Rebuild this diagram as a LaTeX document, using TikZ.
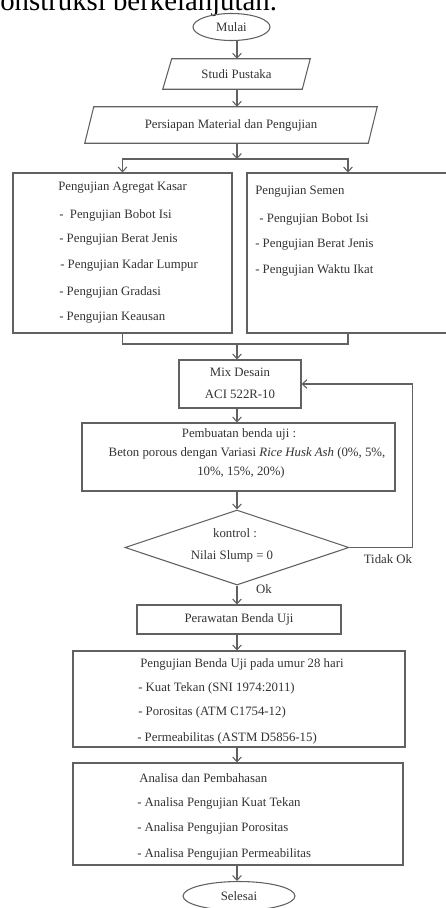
\documentclass[tikz,border=0pt]{standalone}
\usepackage{fontspec}
\setmainfont{Liberation Serif}
\usetikzlibrary{arrows.meta,shapes.geometric,calc}
\newcommand\fs{\fontsize{9.6pt}{11pt}\selectfont}
\newcommand\bigfs{\fontsize{21.6pt}{24pt}\selectfont}
\tikzset{
  ln/.style={draw=black!62, line width=0.8pt},
  arr/.style={ln, -{Straight Barb[length=3.5pt,width=6.5pt]}},
  txt/.style={inner sep=0pt, font=\fs, text=black!80},
  shp/.style={inner sep=0pt, font=\fs, text=black!80},
}
\begin{document}
\begin{tikzpicture}[x=0.75pt,y=-0.75pt]
\clip (0,0) rectangle (446,908);
\fill[white] (0,0) rectangle (446,908);
\node[inner sep=0pt, font=\bigfs, anchor=base west] (head) at (0,10) {onstruksi berkelanjutan.};
\coordinate (ax) at (237,0);
% Mulai
\node[shp, ln, ellipse, minimum width=77*0.75pt, minimum height=27*0.75pt] (mulai) at (231.5,27) {Mulai};
% Studi Pustaka
\node[shp, minimum width=147*0.75pt, minimum height=30*0.75pt] (studi) at (236.5,74) {Studi Pustaka};
\draw[ln] ($(studi.north west)+(9,0)$) -- (studi.north east) -- ($(studi.south east)+(-8,0)$) -- (studi.south west) -- cycle;
% Persiapan
\node[shp, minimum width=292*0.75pt, minimum height=36*0.75pt] (siap) at (231,125) {Persiapan Material dan Pengujian};
\draw[ln] ($(siap.north west)+(9,0)$) -- (siap.north east) -- ($(siap.south east)+(-9,0)$) -- (siap.south west) -- cycle;
% two boxes
\node[shp, ln, rectangle, minimum width=219*0.75pt, minimum height=160*0.75pt] (agr) at (122.5,253) {};
\node[shp, ln, rectangle, minimum width=202*0.75pt, minimum height=160*0.75pt] (sem) at (348,253) {};
\node[txt, anchor=west] (a0) at (58,188) {Pengujian Agregat Kasar};
\node[txt, anchor=west] (a1) at (59,215) {-\ \ Pengujian Bobot Isi};
\node[txt, anchor=west] (a2) at (59,240) {- Pengujian Berat Jenis};
\node[txt, anchor=west] (a3) at (60,265) {- Pengujian Kadar Lumpur};
\node[txt, anchor=west] (a4) at (59,292) {- Pengujian Gradasi};
\node[txt, anchor=west] (a5) at (59,318) {- Pengujian Keausan};
\node[txt, anchor=west] (s0) at (255,192) {Pengujian Semen};
\node[txt, anchor=west] (s1) at (256,219) {\ - Pengujian Bobot Isi};
\node[txt, anchor=west] (s2) at (255,245) {- Pengujian Berat Jenis};
\node[txt, anchor=west] (s3) at (255,270) {- Pengujian Waktu Ikat};
% Mix desain
\node[shp, ln, rectangle, minimum width=122*0.75pt, minimum height=48*0.75pt] (mix) at (240,384) {};
\node[txt] (m1) at (240,372) {Mix Desain};
\node[txt] (m2) at (240,394) {ACI 522R-10};
% Pembuatan
\node[shp, ln, rectangle, minimum width=313*0.75pt, minimum height=68*0.75pt] (buat) at (238.5,457) {};
\node[txt] (b1) at (239,434) {Pembuatan benda uji :};
\node[txt] (b2) at (247,453) {Beton porous dengan Variasi \textit{Rice Husk Ash} (0\%, 5\%,};
\node[txt] (b3) at (241,472) {10\%, 15\%, 20\%)};
% kontrol
\node[shp, ln, diamond, minimum width=224*0.75pt, minimum height=75*0.75pt] (kon) at (237,547.5) {};
\node[txt] (k1) at (235,533) {kontrol :};
\node[txt] (k2) at (232,556) {Nilai Slump = 0};
\node[txt] (tidak) at (388,559) {Tidak Ok};
\node[txt] (ok) at (264,589) {Ok};
% Perawatan
\node[shp, ln, rectangle, minimum width=204*0.75pt, minimum height=29*0.75pt] (rawat) at (239,619.5) {Perawatan Benda Uji};
% Pengujian benda uji
\node[shp, ln, rectangle, minimum width=332*0.75pt, minimum height=96*0.75pt] (benda) at (239,699) {};
\node[txt, anchor=west] (u0) at (140,664) {Pengujian Benda Uji pada umur 28 hari};
\node[txt, anchor=west] (u1) at (138,688) {- Kuat Tekan (SNI 1974:2011)};
\node[txt, anchor=west] (u2) at (138,712) {- Porositas (ATM C1754-12)};
\node[txt, anchor=west] (u3) at (137,738) {- Permeabilitas (ASTM D5856-15)};
% Analisa
\node[shp, ln, rectangle, minimum width=330*0.75pt, minimum height=102*0.75pt] (ana) at (238,814) {};
\node[txt, anchor=west] (n0) at (139,778) {Analisa dan Pembahasan};
\node[txt, anchor=west] (n1) at (137,803) {- Analisa Pengujian Kuat Tekan};
\node[txt, anchor=west] (n2) at (137,828) {- Analisa Pengujian Porositas};
\node[txt, anchor=west] (n3) at (137,854) {- Analisa Pengujian Permeabilitas};
% Selesai
\node[shp, ln, ellipse, minimum width=112*0.75pt, minimum height=29*0.75pt] (sel) at (239,896) {Selesai};
% connectors
\coordinate (br) at (237,159);
\coordinate (mg) at (237,344);
\draw[arr] (mulai.south -| ax) -- (studi.north -| ax);
\draw[arr] (studi.south -| ax) -- (siap.north -| ax);
\draw[arr] (siap.south -| ax) -- (br);
\draw[arr] (br) -| (agr.north);
\draw[arr] (br) -| (sem.north);
\draw[ln] (agr.south) |- (mg);
\draw[ln] (sem.south) |- (mg);
\draw[arr] (mg) -- (mix.north -| ax);
\draw[arr] (mix.south -| ax) -- (buat.north -| ax);
\draw[arr] (buat.south -| ax) -- (kon.north);
\draw[arr] (kon.east) -| ($(mix.east)+(111,0)$) -- (mix.east);
\draw[arr] (kon.south) -- (rawat.north -| ax);
\draw[arr] (rawat.south -| ax) -- (benda.north -| ax);
\draw[arr] (benda.south -| ax) -- (ana.north -| ax);
\draw[arr] (ana.south -| ax) -- (sel.north -| ax);
\end{tikzpicture}
\end{document}
